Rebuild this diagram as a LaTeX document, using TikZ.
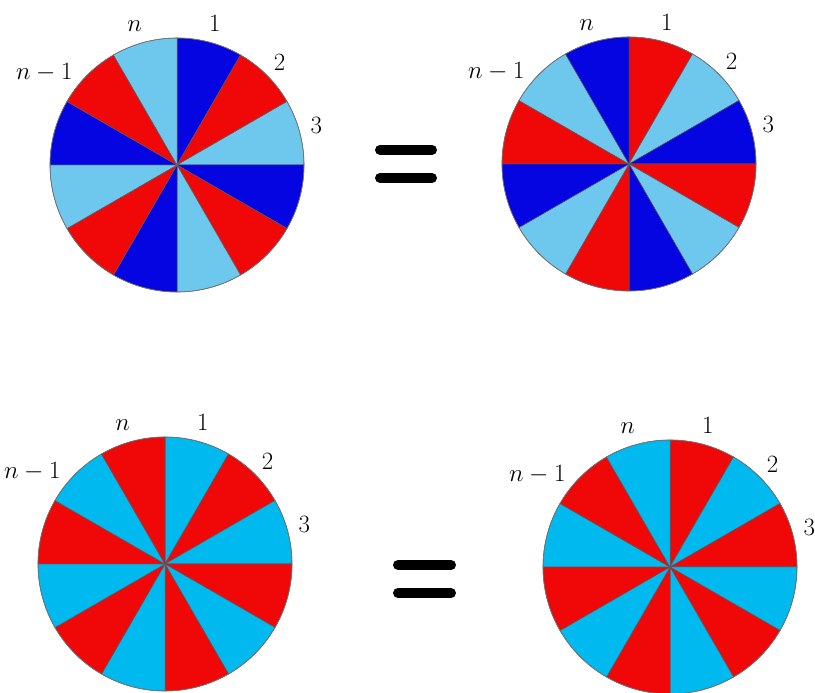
\documentclass[tikz,border=0pt]{standalone}
\usetikzlibrary{calc}
\definecolor{dblue}{RGB}{5,5,225}
\definecolor{wred}{RGB}{240,8,8}
\definecolor{lblue}{RGB}{110,200,238}
\definecolor{cblue}{RGB}{0,185,238}
\newcommand{\wheelpie}[2]{%
  \foreach \c [count=\i from 0] in {#2} {
    \filldraw[fill=\c, draw=black!65, line width=0.5pt]
      (#1) -- ++({90-30*\i}:127) arc[start angle={90-30*\i}, end angle={60-30*\i}, radius=127] -- cycle;
  }
  \draw[black!55, line width=0.6pt] (#1) circle[radius=127];
}
\tikzset{
  lbl/.style={inner sep=0pt, font=\fontsize{24.88}{30}\selectfont},
  eqbar/.style={line width=10pt, line cap=round, black}
}
\begin{document}
\begin{tikzpicture}[x=1pt, y=1pt]
\useasboundingbox (0,0) rectangle (815,693);
\coordinate (C1) at (177,528);
\coordinate (C2) at (629,529);
\coordinate (C3) at (165,129);
\coordinate (C4) at (670,126);
\wheelpie{C1}{dblue,wred,lblue,dblue,wred,lblue,dblue,wred,lblue,dblue,wred,lblue}
\wheelpie{C2}{wred,lblue,dblue,wred,lblue,dblue,wred,lblue,dblue,wred,lblue,dblue}
\wheelpie{C3}{cblue,wred,cblue,wred,cblue,wred,cblue,wred,cblue,wred,cblue,wred}
\wheelpie{C4}{wred,cblue,wred,cblue,wred,cblue,wred,cblue,wred,cblue,wred,cblue}
\foreach \k in {1,2,3,4} {
  \node[lbl] (n\k)  at ($(C\k)+(107:145)$) {$n$};
  \node[lbl] (a\k)  at ($(C\k)+(75:146)$) {$1$};
  \node[lbl] (b\k)  at ($(C\k)+(45:145)$) {$2$};
  \node[lbl] (c\k)  at ($(C\k)+(16:145)$) {$3$};
  \node[lbl] (m\k)  at ($(C\k)+(145:162)$) {$n-1$};
}
\coordinate (e1a) at (380,543); \coordinate (e1b) at (432,543);
\coordinate (e2a) at (380,515); \coordinate (e2b) at (432,515);
\coordinate (e3a) at (398,128); \coordinate (e3b) at (451,128);
\coordinate (e4a) at (398,100); \coordinate (e4b) at (451,100);
\draw[eqbar] (e1a) -- (e1b);
\draw[eqbar] (e2a) -- (e2b);
\draw[eqbar] (e3a) -- (e3b);
\draw[eqbar] (e4a) -- (e4b);
\end{tikzpicture}
\end{document}
